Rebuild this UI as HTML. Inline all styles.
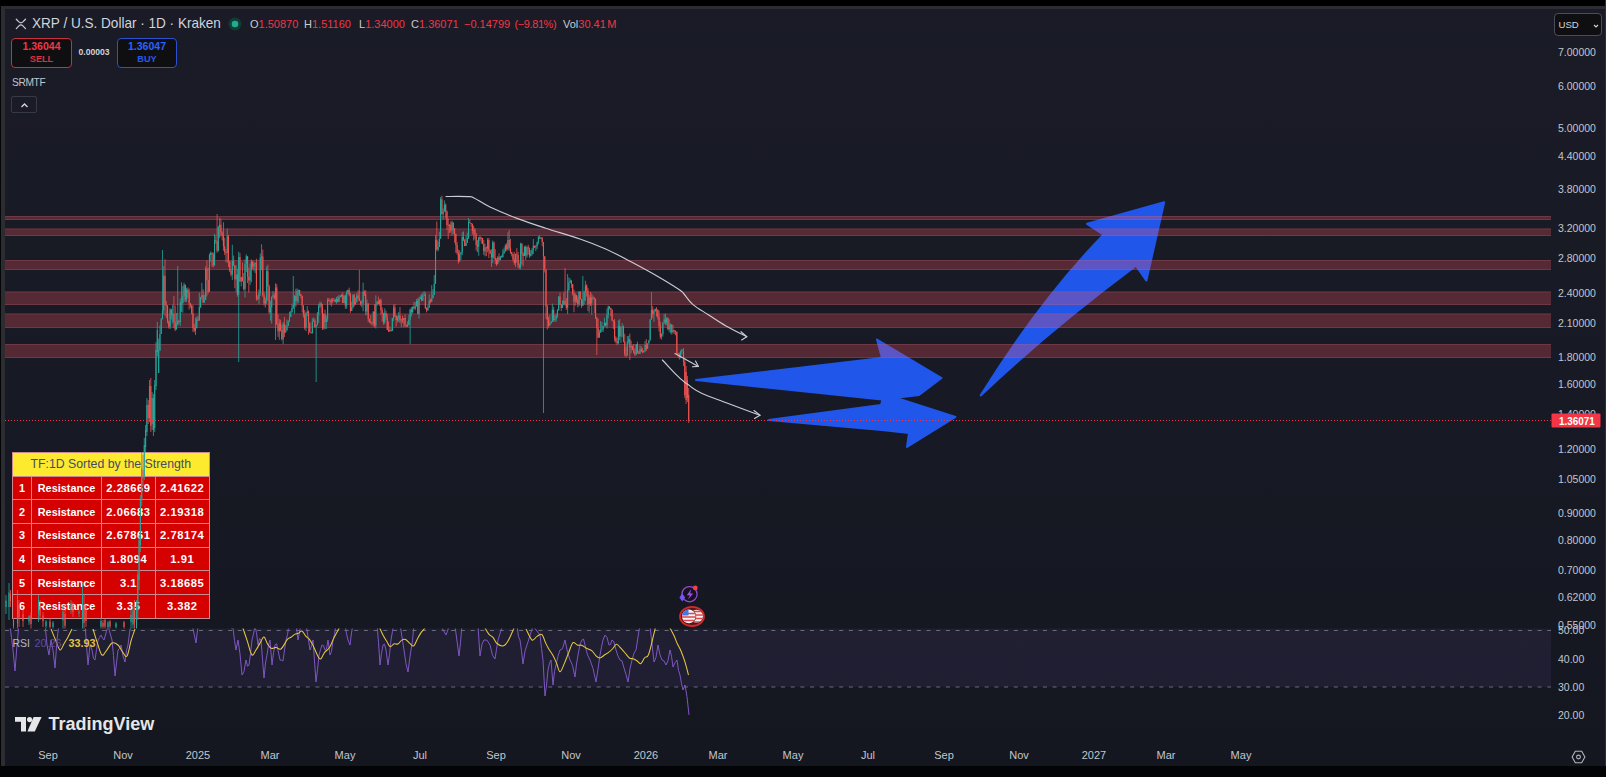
<!DOCTYPE html>
<html><head><meta charset="utf-8"><title>XRP / U.S. Dollar chart</title>
<style>
*{margin:0;padding:0;box-sizing:border-box}
html,body{width:1606px;height:777px;overflow:hidden;background:#030405}
body{position:relative;font-family:"Liberation Sans",sans-serif;color:#d1d4dc}
#frame-top{position:absolute;left:0;top:0;width:1606px;height:6px;background:#000}
#frame-line{position:absolute;left:1px;top:6px;width:1605px;height:3px;background:#2b2d33}
#frame-left{position:absolute;left:1px;top:6px;width:3.5px;height:760px;background:#2b2d33}
#frame-right{position:absolute;left:1605px;top:0;width:1px;height:766px;background:#2e2f34}
#chartbg{position:absolute;left:5px;top:9px;width:1600px;height:756.5px;background:linear-gradient(#1a1b26,#171a24 50%,#141720)}
svg#ch{position:absolute;left:0;top:0}
.ax{font:10.5px "Liberation Sans",sans-serif;fill:#c3c6ce}
.axw{font:bold 11px "Liberation Sans",sans-serif;fill:#fff}
.tx{font:11px "Liberation Sans",sans-serif;fill:#c3c6ce}
.abs{position:absolute;white-space:nowrap}
#title{left:31.5px;top:14.6px;font-size:14.4px;transform:scaleX(0.942);transform-origin:0 0;color:#d1d4dc;letter-spacing:0}
#xrpico{left:14.5px;top:17.5px;width:12px;height:12px}
.ohlc{top:17.5px;font-size:11px;color:#c8cbd3}
.ohlc .r{color:#f23645}
.btn{position:absolute;top:37.5px;height:30px;border-radius:4px;background:#0f0f12;text-align:center;font-size:10.5px;font-weight:bold;line-height:11.5px;padding-top:2.5px}
#sell{left:11px;width:61px;border:1.5px solid #c8303f;color:#f23645}
.s2{font-size:9.2px;opacity:0.9}
#buy{left:117px;width:60px;border:1.5px solid #2c50d0;color:#2962ff}
#spread{left:78.5px;top:47px;font-size:8.6px;font-weight:bold;color:#d1d4dc}
#srmtf{left:12px;top:76.5px;font-size:10.2px;letter-spacing:-0.35px;color:#c2c5ce}
#upbtn{left:11px;top:95.5px;width:26px;height:17.5px;border:1px solid #363a45;border-radius:2px}
#usd{left:1554px;top:13px;width:48px;height:23px;border:1px solid #4a4d58;border-radius:4px;background:#0f0f12;font-size:9.6px;padding:5px 0 0 3.5px;color:#d1d4dc}
#tbl{position:absolute;left:12px;top:452px;width:197.5px;border-collapse:collapse;font-size:10.9px;font-weight:bold}
#tbl td{border:1px solid #c98a92;height:23.7px;color:#fff;background:#d50000;text-align:center;padding:0}
#tbl td.n{letter-spacing:0.55px;font-size:11.2px}
#tbl tr.h td{background:#fde92d;color:#464a66;height:23.7px;font-weight:normal;font-size:12.3px;padding-bottom:1px}
#tvlogo{left:48.5px;top:714px;font-size:18px;font-weight:bold;color:#e6e6e8}
#rsil{left:12px;top:637px;font-size:11px}
</style></head><body>
<div id="frame-top"></div><div id="frame-line"></div><div id="frame-left"></div><div id="frame-right"></div>
<div id="chartbg"></div>
<svg id="ch" width="1606" height="777" viewBox="0 0 1606 777">
<defs><clipPath id="cm"><rect x="5" y="9" width="1546" height="619.5"/></clipPath><clipPath id="cr"><rect x="5" y="628.5" width="1546" height="110"/></clipPath></defs>
<rect x="5" y="628.5" width="1546" height="58.5" fill="rgba(126,87,194,0.11)"/>
<line x1="5" y1="630.5" x2="1551" y2="630.5" stroke="#787b86" stroke-width="1" stroke-dasharray="4 5.7" opacity="0.85"/>
<line x1="5" y1="687" x2="1551" y2="687" stroke="#787b86" stroke-width="1" stroke-dasharray="4 5.7" opacity="0.85"/>
<g clip-path="url(#cm)" fill="#2156eb">
<path d="M696 380 L882 358 L877 339.5 L941.5 378 L919 395 L882 399.5 Z" stroke="#2156eb" stroke-width="2" stroke-linejoin="round"/>
<path d="M768.7 420 L881 405 L884 394 L955.5 417 L907 447 L909 433 L882 430 Z" stroke="#2156eb" stroke-width="2" stroke-linejoin="round"/>
<path d="M980.7 395.4 Q1040 300 1103.5 234.7 L1087 223.8 L1164.2 202.2 L1146.4 280.6 L1136 265.8 Q1050 330 980.7 395.4 Z" stroke="#2156eb" stroke-width="2" stroke-linejoin="round"/>
</g>
<rect x="5" y="216" width="1546" height="4" fill="rgba(247,82,95,0.28)"/>
<line x1="5" y1="216.5" x2="1551" y2="216.5" stroke="rgba(200,110,130,0.22)"/>
<line x1="5" y1="219.5" x2="1551" y2="219.5" stroke="rgba(200,110,130,0.22)"/>
<rect x="5" y="228.5" width="1546" height="7.5" fill="rgba(247,82,95,0.28)"/>
<line x1="5" y1="229.0" x2="1551" y2="229.0" stroke="rgba(200,110,130,0.22)"/>
<line x1="5" y1="235.5" x2="1551" y2="235.5" stroke="rgba(200,110,130,0.22)"/>
<rect x="5" y="260" width="1546" height="10" fill="rgba(247,82,95,0.28)"/>
<line x1="5" y1="260.5" x2="1551" y2="260.5" stroke="rgba(200,110,130,0.22)"/>
<line x1="5" y1="269.5" x2="1551" y2="269.5" stroke="rgba(200,110,130,0.22)"/>
<rect x="5" y="291.5" width="1546" height="13.5" fill="rgba(247,82,95,0.28)"/>
<line x1="5" y1="292.0" x2="1551" y2="292.0" stroke="rgba(200,110,130,0.22)"/>
<line x1="5" y1="304.5" x2="1551" y2="304.5" stroke="rgba(200,110,130,0.22)"/>
<rect x="5" y="313.5" width="1546" height="14.5" fill="rgba(247,82,95,0.28)"/>
<line x1="5" y1="314.0" x2="1551" y2="314.0" stroke="rgba(200,110,130,0.22)"/>
<line x1="5" y1="327.5" x2="1551" y2="327.5" stroke="rgba(200,110,130,0.22)"/>
<rect x="5" y="344" width="1546" height="14" fill="rgba(247,82,95,0.28)"/>
<line x1="5" y1="344.5" x2="1551" y2="344.5" stroke="rgba(200,110,130,0.22)"/>
<line x1="5" y1="357.5" x2="1551" y2="357.5" stroke="rgba(200,110,130,0.22)"/>
</svg>

<table id="tbl">
<tr class="h"><td colspan="4">TF:1D Sorted by the Strength</td></tr>
<tr><td style="width:19px">1</td><td style="width:70px">Resistance</td><td style="width:54px" class="n">2.28669</td><td class="n">2.41622</td></tr>
<tr><td>2</td><td>Resistance</td><td class="n">2.06683</td><td class="n">2.19318</td></tr>
<tr><td>3</td><td>Resistance</td><td class="n">2.67861</td><td class="n">2.78174</td></tr>
<tr><td>4</td><td>Resistance</td><td class="n">1.8094</td><td class="n">1.91</td></tr>
<tr><td>5</td><td>Resistance</td><td class="n">3.1</td><td class="n">3.18685</td></tr>
<tr><td>6</td><td>Resistance</td><td class="n">3.35</td><td class="n">3.382</td></tr>
</table>
<svg id="ch2" style="position:absolute;left:0;top:0" width="1606" height="777" viewBox="0 0 1606 777"><defs><clipPath id="cm2"><rect x="5" y="9" width="1546" height="619.5"/></clipPath><clipPath id="cr2"><rect x="5" y="628.5" width="1546" height="110"/></clipPath></defs><g clip-path="url(#cm2)">
<path d="M6 595.0V614.0M9 583.0V620.0M17.5 590.0V630.0M29 615.0V625.0M38.5 595.0V622.0M46 620.0V630.0M53 621.0V630.0M63 605.0V630.0M71 600.0V614.0M79 610.0V617.0M82.5 583.0V630.0M101 618.0V630.0M108 621.0V630.0M116 622.0V630.0M131 610.0V630.0M133 605.0V630.0M158.67 338.7V373.0M159.94 325.6V350.8M161.21 318.0V334.0M162.48 250.0V319.2M163.75 266.1V314.2M170.1 308.1V329.1M172.64 304.9V323.4M176.45 313.0V329.4M177.72 266.0V325.2M180.26 298.5V326.2M182.8 286.2V312.7M184.07 282.7V301.9M186.61 287.7V301.9M195.5 317.6V335.0M196.77 316.6V328.2M199.31 292.7V320.5M200.58 296.8V308.2M201.85 282.8V299.5M204.39 294.7V302.6M205.66 266.2V299.9M209.47 253.5V291.7M210.74 251.4V261.7M214.55 233.9V265.5M218.36 225.8V251.5M219.63 217.7V238.1M227.25 228.6V262.8M232.33 244.7V280.1M236.14 265.5V292.3M238.68 251.7V362.0M241.22 276.8V286.4M245.03 259.5V297.6M246.3 254.3V272.1M250.11 263.6V284.9M251.38 259.4V282.2M253.92 261.9V271.2M255.19 262.5V273.2M259.0 289.3V304.1M260.27 253.5V295.9M261.54 244.3V270.3M265.35 297.4V307.6M266.62 266.4V303.8M270.43 300.6V320.7M271.7 296.5V323.7M272.97 291.0V297.6M275.51 283.3V340.0M279.32 319.1V339.7M283.13 322.0V344.0M285.67 324.9V332.6M286.94 319.4V330.5M288.21 320.3V326.0M289.48 311.7V321.5M290.75 310.7V317.0M292.02 303.5V312.4M293.29 276.0V308.9M294.56 295.0V313.8M297.1 288.4V303.5M298.37 289.5V303.1M305.99 312.2V331.2M307.26 306.1V315.9M312.34 318.2V333.4M313.61 317.4V321.5M316.15 324.3V382.0M317.42 311.9V325.2M318.69 303.7V322.9M319.96 301.4V308.1M323.77 313.3V329.6M326.31 315.7V329.0M327.58 298.0V321.8M331.39 298.0V306.5M333.93 298.0V301.0M336.47 296.9V303.7M339.01 294.9V301.9M340.28 295.0V297.6M341.55 293.8V297.4M344.09 295.1V303.3M346.63 290.5V308.8M347.9 289.6V294.4M351.71 301.9V310.9M352.98 294.1V308.5M355.52 297.6V304.4M356.79 293.0V302.2M361.87 299.8V307.4M363.14 282.7V311.3M366.95 299.6V315.4M373.3 311.4V326.4M375.84 295.3V328.5M377.11 301.3V305.8M379.65 299.3V305.8M384.73 308.4V324.1M389.81 326.5V332.0M392.35 317.9V330.9M393.62 304.6V320.9M397.43 315.8V322.5M398.7 312.0V321.8M401.24 318.7V327.0M403.78 317.9V327.0M407.59 321.4V327.0M408.86 314.6V325.4M410.13 308.7V344.0M412.67 306.3V313.7M415.21 302.0V310.3M416.48 299.2V306.7M419.02 296.9V318.6M420.29 295.5V299.3M422.83 292.6V301.1M424.1 291.2V295.9M427.91 305.2V310.4M429.18 294.2V307.7M431.72 285.1V301.7M432.99 289.2V298.2M434.26 275.1V295.0M435.53 235.2V283.7M438.07 241.3V251.4M439.34 231.7V247.1M440.61 197.0V238.8M443.15 208.4V219.5M444.42 200.4V211.8M449.5 223.9V233.0M452.04 220.6V235.3M459.66 250.2V261.5M460.93 252.0V259.9M462.2 232.2V255.2M466.01 235.5V246.1M467.28 232.7V243.0M468.55 218.0V239.0M473.63 225.7V240.5M478.71 237.2V255.8M481.25 236.9V243.6M485.06 243.7V256.3M487.6 238.0V252.3M492.68 240.6V263.2M497.76 256.0V264.2M500.3 255.9V260.0M502.84 249.2V257.3M504.11 247.5V253.6M505.38 244.2V251.8M507.92 232.2V250.5M515.54 253.7V267.2M520.62 242.7V269.4M524.43 245.8V256.1M526.97 246.3V257.6M530.78 250.3V256.5M532.05 248.1V255.5M533.32 239.0V254.0M535.86 245.0V251.1M537.13 241.6V249.0M538.4 236.0V244.3M540.94 237.3V239.1M549.83 314.9V325.7M551.1 321.3V323.6M552.37 303.6V322.0M554.91 315.2V321.7M556.18 313.5V321.7M557.45 309.2V317.8M558.72 296.3V310.8M562.53 300.4V307.9M563.8 292.5V304.9M567.61 274.0V314.0M568.88 277.4V291.5M570.15 278.4V283.0M575.23 292.9V305.6M579.04 291.1V306.3M582.85 276.0V305.8M584.12 290.7V304.3M585.39 280.7V300.9M589.2 294.8V312.8M591.74 293.3V314.6M599.36 329.7V337.6M600.63 321.0V332.6M601.9 322.1V332.0M603.17 325.9V332.0M604.44 317.9V326.4M606.98 308.5V328.4M608.25 305.7V318.4M618.41 320.3V343.9M620.95 326.3V343.1M622.22 323.1V337.3M627.3 336.0V355.7M628.57 335.7V343.6M631.11 340.7V353.4M636.19 344.0V355.4M640.0 345.3V354.0M643.81 350.3V352.7M645.08 340.9V352.2M647.62 343.4V348.8M648.89 339.9V343.6M650.16 319.2V340.4M651.43 292.0V319.8M653.97 309.3V321.8M655.24 308.7V312.4M661.59 333.3V339.6M662.86 322.6V336.5M664.13 314.2V324.0M666.67 317.0V324.9M669.21 319.3V332.2M670.48 323.4V333.4M673.02 325.0V333.3M680.64 350.5V358.5M681.91 348.9V354.3M136.5 600.0V640.0M137.8 570.0V620.0M139.1 535.0V590.0M140.4 495.0V552.0M141.7 452.0V506.0M144.3 438.0V480.0M145.6 425.0V452.0M146.9 398.0V436.0M149.5 380.0V422.0M152.1 392.0V430.0M154.7 380.0V432.0M156.0 342.0V390.0M157.3 322.0V356.0" stroke="#26a69a" stroke-width="0.8" fill="none"/>
<path d="M4.5 599.0V621.0M10.5 590.0V607.0M13.5 618.0V630.0M19 600.0V627.0M23 610.0V627.0M31 612.0V630.0M40 600.0V620.0M43 612.0V627.0M50 618.0V630.0M65 610.0V630.0M73 602.0V617.0M84 595.0V630.0M86 605.0V627.0M103 620.0V630.0M105 619.0V630.0M110 620.0V630.0M124 621.0V630.0M134.5 600.0V630.0M165.02 259.3V315.8M166.29 301.0V318.2M167.56 305.1V323.4M168.83 320.6V328.5M171.37 308.9V319.5M173.91 295.9V327.9M175.18 305.5V331.1M178.99 319.8V323.9M181.53 282.3V311.9M185.34 284.7V302.0M187.88 287.5V297.7M189.15 288.7V309.5M190.42 303.1V307.9M191.69 304.5V314.6M192.96 305.3V331.8M194.23 323.7V332.4M198.04 316.1V321.1M203.12 289.2V302.9M206.93 260.3V296.4M208.2 267.7V293.7M212.01 252.3V266.8M213.28 252.4V267.5M215.82 235.7V243.8M217.09 214.0V252.7M220.9 218.7V236.3M222.17 231.5V240.4M223.44 222.2V250.7M224.71 237.7V255.0M225.98 249.1V262.1M228.52 234.9V267.0M229.79 260.8V272.0M231.06 268.9V276.6M233.6 255.5V265.7M234.87 265.0V288.2M237.41 268.8V296.7M239.95 253.0V281.7M242.49 262.5V281.5M243.76 273.0V290.5M247.57 256.2V283.0M248.84 267.6V292.7M252.65 260.7V269.3M256.46 258.8V300.8M257.73 295.2V300.2M262.81 249.6V296.9M264.08 292.5V305.5M267.89 264.7V300.8M269.16 284.9V314.0M274.24 292.7V299.8M276.78 284.1V324.9M278.05 314.4V336.9M280.59 319.7V331.5M281.86 325.1V340.5M284.4 317.0V337.0M295.83 288.8V306.8M299.64 289.9V296.0M300.91 294.1V298.5M302.18 295.7V312.5M303.45 305.5V317.6M304.72 310.1V329.7M308.53 310.4V334.8M309.8 322.2V332.8M311.07 332.2V333.4M314.88 318.5V327.9M321.23 302.3V313.4M322.5 303.9V329.9M325.04 309.7V329.3M328.85 298.0V301.4M330.12 299.2V304.9M332.66 298.0V303.2M335.2 298.6V302.4M337.74 295.9V302.5M342.82 292.2V303.1M345.36 294.5V308.7M349.17 287.7V296.2M350.44 292.9V312.9M354.25 293.7V306.4M358.06 290.4V299.4M359.33 270.0V301.0M360.6 300.8V305.7M364.41 290.4V296.1M365.68 290.1V315.1M368.22 303.3V322.2M369.49 318.7V322.9M370.76 315.1V324.3M372.03 322.3V325.4M374.57 304.2V327.5M378.38 296.6V304.2M380.92 298.5V314.7M382.19 307.3V321.6M383.46 312.8V324.7M386.0 310.6V319.9M387.27 313.8V330.1M388.54 321.4V332.0M391.08 328.2V331.5M394.89 304.1V317.2M396.16 315.3V326.5M399.97 307.0V323.0M402.51 315.6V323.1M405.05 314.4V327.0M406.32 324.5V327.0M411.4 307.1V316.4M413.94 301.8V309.0M417.75 298.1V314.2M421.56 294.0V301.4M425.37 292.2V309.1M426.64 307.3V312.4M430.45 298.8V303.4M436.8 221.5V250.8M441.88 195.7V214.4M445.69 203.5V218.4M446.96 210.5V230.0M448.23 218.5V239.1M450.77 221.4V232.6M453.31 222.6V234.2M454.58 228.0V242.7M455.85 233.5V252.9M457.12 242.0V254.7M458.39 249.6V263.5M463.47 231.4V241.2M464.74 238.8V246.2M469.82 219.3V223.4M471.09 223.0V227.0M472.36 223.5V234.5M474.9 227.8V239.3M476.17 232.8V250.6M477.44 240.1V252.2M479.98 235.4V240.8M482.52 237.9V244.2M483.79 240.1V254.9M486.33 246.5V256.1M488.87 238.0V258.2M490.14 249.7V254.0M491.41 249.2V267.0M493.95 241.5V258.9M495.22 249.2V264.1M496.49 258.3V265.9M499.03 253.3V262.0M501.57 255.5V257.7M506.65 243.0V250.7M509.19 230.0V250.5M510.46 238.9V253.7M511.73 251.8V256.4M513.0 253.6V261.3M514.27 251.9V264.9M516.81 248.2V262.6M518.08 251.9V268.3M519.35 263.4V268.9M521.89 242.9V264.5M523.16 252.3V266.3M525.7 245.4V260.0M528.24 244.8V254.6M529.51 247.5V257.8M534.59 245.7V248.0M539.67 235.1V239.0M542.21 237.5V246.4M543.48 242.1V413.0M544.75 256.3V272.5M546.02 269.4V319.2M547.29 304.8V329.5M548.56 316.9V327.7M553.64 306.7V322.0M559.99 292.7V304.8M561.26 304.0V311.1M565.07 268.0V305.6M566.34 298.0V309.8M571.42 280.4V287.9M572.69 284.1V295.5M573.96 289.6V312.2M576.5 294.9V302.7M577.77 296.5V307.3M580.31 291.3V299.7M581.58 298.9V307.9M586.66 284.2V296.6M587.93 287.8V311.0M590.47 291.8V306.0M593.01 295.4V299.7M594.28 297.0V313.2M595.55 298.5V319.1M596.82 316.7V355.0M598.09 318.5V338.0M605.71 322.7V326.7M609.52 306.1V309.5M610.79 307.7V316.2M612.06 309.3V321.2M613.33 320.0V328.9M614.6 319.0V341.5M615.87 336.3V343.3M617.14 337.7V345.2M619.68 319.2V339.9M623.49 325.6V342.4M624.76 333.8V356.3M626.03 347.1V357.4M629.84 333.4V360.0M632.38 345.5V350.3M633.65 344.0V353.6M634.92 348.4V356.1M637.46 341.7V353.5M638.73 350.8V354.0M641.27 346.1V352.0M642.54 347.9V353.2M646.35 339.1V350.8M652.7 306.0V318.2M656.51 307.1V316.5M657.78 309.5V319.5M659.05 310.4V331.6M660.32 321.6V338.7M665.4 313.6V325.2M667.94 317.4V329.7M671.75 324.2V334.6M674.29 329.9V334.1M675.56 330.5V335.3M676.83 331.7V354.7M678.1 352.8V357.3M679.37 352.5V359.5M143.0 455.0V486.0M148.2 400.0V424.0M150.8 378.0V432.0M153.4 394.0V436.0M683.5 348.0V366.0M684.8 358.0V398.0M686.1 366.0V404.0M687.4 376.0V402.0M688.7 388.0V423.0" stroke="#ef5350" stroke-width="0.8" fill="none"/>
<path d="M6 600.4V607.0M9 592.6V607.0M17.5 599.8V623.3M29 616.3V621.4M38.5 600.1V613.3M46 621.6V626.2M53 622.7V627.0M63 611.8V620.3M71 602.9V609.2M79 611.3V613.5M82.5 593.4V618.9M101 620.9V626.7M108 622.4V627.3M116 623.6V626.9M131 615.1V622.0M133 610.3V624.4M158.67 350.8V373.0M159.94 334.0V350.8M161.21 319.2V334.0M162.48 310.6V319.2M163.75 275.8V310.6M170.1 309.4V326.8M172.64 313.9V314.8M176.45 325.2V329.4M177.72 320.9V325.2M180.26 302.2V321.9M182.8 295.9V303.1M184.07 284.7V295.9M186.61 289.7V299.6M195.5 328.2V330.4M196.77 319.6V328.2M199.31 307.0V320.5M200.58 297.3V307.0M201.85 295.3V297.3M204.39 299.9V302.6M205.66 268.6V299.9M209.47 255.0V291.7M210.74 253.0V255.0M214.55 240.3V265.5M218.36 226.9V250.7M219.63 224.7V226.9M227.25 236.2V252.9M232.33 260.9V274.6M236.14 274.4V279.6M238.68 257.0V294.7M241.22 277.0V281.6M245.03 264.0V288.9M246.3 256.3V264.0M250.11 270.6V280.6M251.38 261.4V270.6M253.92 263.9V266.6M255.19 263.0V263.9M259.0 292.7V299.1M260.27 257.8V292.7M261.54 256.5V257.8M265.35 300.3V303.5M266.62 271.3V300.3M270.43 307.2V312.2M271.7 296.8V307.2M272.97 295.3V296.8M275.51 287.6V298.5M279.32 322.8V331.2M283.13 324.0V339.3M285.67 330.5V332.6M286.94 326.0V330.5M288.21 321.5V326.0M289.48 317.0V321.5M290.75 312.4V317.0M292.02 308.0V312.4M293.29 304.9V308.0M294.56 296.0V304.9M297.1 290.8V301.1M298.37 289.9V290.8M305.99 312.9V327.7M307.26 311.4V312.9M312.34 321.4V333.2M313.61 320.5V321.4M316.15 325.2V327.1M317.42 314.4V325.2M318.69 305.5V314.4M319.96 303.4V305.5M323.77 314.2V327.9M326.31 318.8V322.0M327.58 300.0V318.8M331.39 300.0V301.8M333.93 300.0V300.9M336.47 298.9V302.1M339.01 296.9V301.7M340.28 295.9V296.9M341.55 295.0V295.9M344.09 295.8V303.0M346.63 292.2V305.5M347.9 290.1V292.2M351.71 307.2V310.9M352.98 295.3V307.2M355.52 302.2V304.4M356.79 295.5V302.2M361.87 302.8V303.7M363.14 291.8V302.8M366.95 303.4V311.5M373.3 311.6V323.4M375.84 304.1V325.5M377.11 301.6V304.1M379.65 299.7V304.1M384.73 313.1V322.3M389.81 330.0V330.9M392.35 317.9V330.9M393.62 307.4V317.9M397.43 317.8V320.1M398.7 315.4V317.8M401.24 319.4V320.5M403.78 318.0V320.2M407.59 325.0V325.9M408.86 319.7V325.0M410.13 309.6V319.7M412.67 306.9V311.9M415.21 305.9V308.4M416.48 301.0V305.9M419.02 298.9V314.0M420.29 297.5V298.9M422.83 295.7V300.6M424.1 294.5V295.7M427.91 307.7V310.4M429.18 300.8V307.7M431.72 298.2V301.7M432.99 295.0V298.2M434.26 283.7V295.0M435.53 239.8V283.7M438.07 247.1V249.4M439.34 238.8V247.1M440.61 199.3V238.8M443.15 211.5V214.3M444.42 204.8V211.5M449.5 224.9V225.8M452.04 222.6V230.6M459.66 254.5V261.5M460.93 252.4V254.5M462.2 237.0V252.4M466.01 243.0V246.1M467.28 237.9V243.0M468.55 222.2V237.9M473.63 229.8V230.7M478.71 237.3V246.8M481.25 237.9V238.8M485.06 247.4V251.3M487.6 240.0V248.3M492.68 242.6V257.6M497.76 257.5V264.2M500.3 256.4V260.0M502.84 253.6V257.3M504.11 251.1V253.6M505.38 245.4V251.1M507.92 239.9V249.2M515.54 254.3V262.9M520.62 244.0V266.9M524.43 247.1V255.9M526.97 247.3V255.6M530.78 253.7V255.8M532.05 250.0V253.7M533.32 245.8V250.0M535.86 246.3V247.2M537.13 242.6V246.3M538.4 237.5V242.6M540.94 237.5V238.4M549.83 323.6V325.7M551.1 321.5V323.6M552.37 309.7V321.5M554.91 319.1V320.0M556.18 315.9V319.1M557.45 310.1V315.9M558.72 296.4V310.1M562.53 304.9V307.9M563.8 300.7V304.9M567.61 289.9V307.8M568.88 282.4V289.9M570.15 280.4V282.4M575.23 294.9V301.7M579.04 291.8V304.1M582.85 300.6V305.8M584.12 292.4V300.6M585.39 285.5V292.4M589.2 297.5V304.2M591.74 297.4V303.6M599.36 332.6V337.6M600.63 330.0V332.6M601.9 329.1V330.0M603.17 326.1V329.1M604.44 322.8V326.1M606.98 314.9V325.5M608.25 306.6V314.9M618.41 325.7V343.2M620.95 327.3V336.6M622.22 326.4V327.3M627.3 341.4V355.5M628.57 339.2V341.4M631.11 346.0V347.6M636.19 344.3V354.2M640.0 349.2V353.7M643.81 350.7V352.2M645.08 345.0V350.7M647.62 343.6V348.8M648.89 340.4V343.6M650.16 319.6V340.4M651.43 309.7V319.6M653.97 311.1V314.1M655.24 308.7V311.1M661.59 334.1V336.7M662.86 322.6V334.1M664.13 319.5V322.6M666.67 318.2V322.7M669.21 325.3V329.5M670.48 324.4V325.3M673.02 329.9V332.1M680.64 351.4V357.5M681.91 349.7V351.4M136.5 605.0V628.0M137.8 575.0V610.0M139.1 540.0V580.0M140.4 500.0V545.0M141.7 468.0V500.0M144.3 445.0V476.0M145.6 430.0V447.0M146.9 405.0V432.0M149.5 386.0V418.0M152.1 398.0V424.0M154.7 385.0V428.0M156.0 350.0V386.0M157.3 330.0V352.0" stroke="#26a69a" stroke-width="1.1" fill="none"/>
<path d="M4.5 602.1V613.4M10.5 594.0V601.1M13.5 620.1V626.2M19 605.1V617.6M23 614.2V621.1M31 615.4V623.9M40 606.0V615.4M43 615.4V621.2M50 621.4V626.9M65 614.1V625.7M73 605.6V612.0M84 606.1V623.0M86 610.4V621.0M103 622.8V626.5M105 620.0V626.5M110 621.6V626.4M124 622.2V626.9M134.5 608.4V622.5M165.02 275.8V304.9M166.29 304.9V305.8M167.56 305.8V321.5M168.83 321.5V326.8M171.37 309.4V314.8M173.91 313.9V322.1M175.18 322.1V329.4M178.99 320.9V321.9M181.53 302.2V303.1M185.34 284.7V299.6M187.88 289.7V292.6M189.15 292.6V303.2M190.42 303.2V305.7M191.69 305.7V313.2M192.96 313.2V328.1M194.23 328.1V330.4M198.04 319.6V320.5M203.12 295.3V302.6M206.93 268.6V280.0M208.2 280.0V291.7M212.01 253.0V254.6M213.28 254.6V265.5M215.82 240.3V241.2M217.09 241.2V250.7M220.9 224.7V232.7M222.17 232.7V235.5M223.44 235.5V246.3M224.71 246.3V252.0M225.98 252.0V252.9M228.52 236.2V261.7M229.79 261.7V271.1M231.06 271.1V274.6M233.6 260.9V265.6M234.87 265.6V279.6M237.41 274.4V294.7M239.95 257.0V281.6M242.49 277.0V281.1M243.76 281.1V288.9M247.57 256.3V276.7M248.84 276.7V280.6M252.65 261.4V266.6M256.46 263.0V298.2M257.73 298.2V299.1M262.81 256.5V295.4M264.08 295.4V303.5M267.89 271.3V286.4M269.16 286.4V312.2M274.24 295.3V298.5M276.78 287.6V324.6M278.05 324.6V331.2M280.59 322.8V329.9M281.86 329.9V339.3M284.4 324.0V332.6M295.83 296.0V301.1M299.64 289.9V294.2M300.91 294.2V296.1M302.18 296.1V305.6M303.45 305.6V314.8M304.72 314.8V327.7M308.53 311.4V323.2M309.8 323.2V332.3M311.07 332.3V333.2M314.88 320.5V327.1M321.23 303.4V306.5M322.5 306.5V327.9M325.04 314.2V322.0M328.85 300.0V300.9M330.12 300.9V301.8M332.66 300.0V300.9M335.2 300.0V302.1M337.74 298.9V301.7M342.82 295.0V303.0M345.36 295.8V305.5M349.17 290.1V294.4M350.44 294.4V310.9M354.25 295.3V304.4M358.06 295.5V298.1M359.33 298.1V300.9M360.6 300.9V303.7M364.41 291.8V293.8M365.68 293.8V311.5M368.22 303.4V318.9M369.49 318.9V321.2M370.76 321.2V322.3M372.03 322.3V323.4M374.57 311.6V325.5M378.38 301.6V304.1M380.92 299.7V309.9M382.19 309.9V313.4M383.46 313.4V322.3M386.0 313.1V317.2M387.27 317.2V330.0M388.54 330.0V330.9M391.08 330.0V330.9M394.89 307.4V315.8M396.16 315.8V320.1M399.97 315.4V320.5M402.51 319.4V320.2M405.05 318.0V325.0M406.32 325.0V325.9M411.4 309.6V311.9M413.94 306.9V308.4M417.75 301.0V314.0M421.56 297.5V300.6M425.37 294.5V308.0M426.64 308.0V310.4M430.45 300.8V301.7M436.8 239.8V249.4M441.88 199.3V214.3M445.69 204.8V211.6M446.96 211.6V224.9M448.23 224.9V225.8M450.77 224.9V230.6M453.31 222.6V228.3M454.58 228.3V233.9M455.85 233.9V244.9M457.12 244.9V252.8M458.39 252.8V261.5M463.47 237.0V239.8M464.74 239.8V246.1M469.82 222.2V223.1M471.09 223.1V224.0M472.36 224.0V230.7M474.9 229.8V234.2M476.17 234.2V245.1M477.44 245.1V246.8M479.98 237.3V238.8M482.52 237.9V244.1M483.79 244.1V251.3M486.33 247.4V248.3M488.87 240.0V250.4M490.14 250.4V253.4M491.41 253.4V257.6M493.95 242.6V258.0M495.22 258.0V260.2M496.49 260.2V264.2M499.03 257.5V260.0M501.57 256.4V257.3M506.65 245.4V249.2M509.19 239.9V247.9M510.46 247.9V252.1M511.73 252.1V253.9M513.0 253.9V259.3M514.27 259.3V262.9M516.81 254.3V255.1M518.08 255.1V265.6M519.35 265.6V266.9M521.89 244.0V254.3M523.16 254.3V255.9M525.7 247.1V255.6M528.24 247.3V248.6M529.51 248.6V255.8M534.59 245.8V247.2M539.67 237.5V238.4M542.21 237.5V242.1M543.48 242.1V256.3M544.75 256.3V269.4M546.02 269.4V306.5M547.29 306.5V319.8M548.56 319.8V325.7M553.64 309.7V320.0M559.99 296.4V304.7M561.26 304.7V307.9M565.07 300.7V303.6M566.34 303.6V307.8M571.42 280.4V284.1M572.69 284.1V293.5M573.96 293.5V301.7M576.5 294.9V300.1M577.77 300.1V304.1M580.31 291.8V299.0M581.58 299.0V305.8M586.66 285.5V290.5M587.93 290.5V304.2M590.47 297.5V303.6M593.01 297.4V298.3M594.28 298.3V299.2M595.55 299.2V318.2M596.82 318.2V327.4M598.09 327.4V337.6M605.71 322.8V325.5M609.52 306.6V308.1M610.79 308.1V309.7M612.06 309.7V320.6M613.33 320.6V321.5M614.6 321.5V337.9M615.87 337.9V341.3M617.14 341.3V343.2M619.68 325.7V336.6M623.49 326.4V341.5M624.76 341.5V354.6M626.03 354.6V355.5M629.84 339.2V347.6M632.38 346.0V349.9M633.65 349.9V352.4M634.92 352.4V354.2M637.46 344.3V352.8M638.73 352.8V353.7M641.27 349.2V351.3M642.54 351.3V352.2M646.35 345.0V348.8M652.7 309.7V314.1M656.51 308.7V309.8M657.78 309.8V316.9M659.05 316.9V326.2M660.32 326.2V336.7M665.4 319.5V322.7M667.94 318.2V329.5M671.75 324.4V332.1M674.29 329.9V330.8M675.56 330.8V331.7M676.83 331.7V353.1M678.1 353.1V354.0M679.37 354.0V357.5M143.0 470.0V478.0M148.2 405.0V418.0M150.8 386.0V426.0M153.4 398.0V430.0M683.5 352.0V362.0M684.8 362.0V395.0M686.1 372.0V400.0M687.4 380.0V398.0M688.7 395.0V420.5" stroke="#ef5350" stroke-width="1.1" fill="none"/>
<path d="M446 196.5 C449.7 196.5 463.3 196.3 468.0 196.6 C472.7 196.8 470.3 196.3 474.0 198.0 C477.7 199.7 482.7 203.6 490.0 207.0 C497.3 210.4 508.5 215.1 517.7 218.6 C526.9 222.1 534.6 224.6 545.0 228.0 C555.4 231.4 569.9 235.5 580.0 239.0 C590.1 242.5 597.1 245.2 605.7 249.0 C614.3 252.8 623.0 257.5 631.5 262.0 C640.0 266.5 649.1 271.4 657.0 276.0 C664.9 280.6 674.5 286.5 679.0 289.5 C683.5 292.5 681.7 291.5 684.0 294.0 C686.3 296.5 688.9 301.1 693.0 304.6 C697.1 308.1 703.2 311.4 708.7 315.0 C714.2 318.6 719.6 322.4 726.0 326.0 C732.4 329.6 743.3 335.0 746.8 336.8" stroke="#c9ccd3" stroke-width="1.15" fill="none" stroke-linecap="round" stroke-linejoin="round"/>
<path d="M741 331.7 L746.8 336.8 L741.6 340" stroke="#c9ccd3" stroke-width="1.15" fill="none" stroke-linecap="round" stroke-linejoin="round"/>
<path d="M675 353.5 L698.4 366.4" stroke="#c9ccd3" stroke-width="1.15" fill="none" stroke-linecap="round" stroke-linejoin="round"/><path d="M692.5 366.8 L698.4 366.4 L695.5 361" stroke="#c9ccd3" stroke-width="1.15" fill="none" stroke-linecap="round" stroke-linejoin="round"/>
<path d="M662.4 360 C672 370 680 380 688 384.4 C694 390 700 393 708 396 L721.6 401 C735 406 748 411 760 415.3" stroke="#c9ccd3" stroke-width="1.15" fill="none" stroke-linecap="round" stroke-linejoin="round"/>
<path d="M754 410.5 L760 415.3 L754.5 418.5" stroke="#c9ccd3" stroke-width="1.15" fill="none" stroke-linecap="round" stroke-linejoin="round"/>
</g>
<line x1="5" y1="420.5" x2="1551" y2="420.5" stroke="#f23645" stroke-width="1" stroke-dasharray="1 2"/>
<g clip-path="url(#cr2)">
<path d="M5.0 622.0 L10.0 626.0 L11.5 637.6 L13.0 650.0 L15.0 671.0 L17.0 645.0 L19.0 624.0 L45.0 624.0 L47.0 645.0 L49.0 655.0 L51.0 640.0 L53.0 650.0 L55.0 668.0 L57.0 640.0 L59.0 624.0 L85.0 624.0 L86.5 645.0 L88.0 665.0 L90.0 645.0 L92.0 650.0 L93.5 658.4 L95.0 660.0 L96.5 649.7 L98.0 640.0 L99.5 637.6 L101.0 635.0 L102.5 638.2 L104.0 640.0 L108.0 626.0 L112.0 640.0 L113.5 655.5 L115.0 676.0 L116.5 663.1 L118.0 650.0 L119.5 648.5 L121.0 645.0 L123.0 655.8 L125.0 662.0 L126.5 650.3 L128.0 645.0 L129.5 632.9 L131.0 624.0 L192.0 624.0 L196.0 643.0 L197.5 630.2 L199.0 624.0 L230.0 624.0 L231.5 628.5 L233.0 628.0 L234.5 640.5 L236.0 650.0 L238.0 640.0 L240.0 653.8 L242.0 675.0 L244.0 671.4 L246.0 660.0 L247.5 666.2 L249.0 665.0 L250.5 653.7 L252.0 640.0 L253.5 633.9 L255.0 626.0 L256.5 632.8 L258.0 645.0 L259.5 638.6 L261.0 640.0 L262.5 659.2 L264.0 678.0 L265.5 663.0 L267.0 655.0 L268.5 645.0 L270.0 640.0 L272.0 665.0 L273.5 652.9 L275.0 645.0 L276.5 643.7 L278.0 650.0 L280.0 660.0 L281.5 660.2 L283.0 661.0 L284.5 650.0 L286.0 640.0 L287.5 634.7 L289.0 624.0 L296.0 624.0 L298.0 640.0 L299.5 632.2 L301.0 624.0 L306.0 624.0 L310.0 650.0 L311.5 646.1 L313.0 640.0 L314.5 661.0 L316.0 682.0 L317.5 669.8 L319.0 655.0 L320.5 649.7 L322.0 645.0 L323.5 645.7 L325.0 650.0 L326.5 649.0 L328.0 640.0 L330.0 655.0 L331.5 651.5 L333.0 640.0 L334.5 634.7 L336.0 624.0 L345.0 624.0 L346.5 633.7 L348.0 640.0 L350.0 645.0 L351.5 633.0 L353.0 624.0 L377.0 624.0 L378.5 642.3 L380.0 665.0 L381.5 653.3 L383.0 645.0 L384.5 644.1 L386.0 650.0 L388.0 665.0 L389.5 654.6 L391.0 640.0 L392.5 631.2 L394.0 624.0 L400.0 624.0 L404.0 650.0 L406.0 663.8 L408.0 672.0 L409.5 660.1 L411.0 650.0 L412.5 640.7 L414.0 624.0 L440.0 624.0 L446.0 635.0 L450.0 624.0 L455.0 626.0 L459.0 656.0 L460.5 642.8 L462.0 624.0 L478.0 626.0 L480.0 656.0 L482.0 644.0 L484.0 640.0 L487.0 640.2 L490.0 645.0 L492.5 655.3 L495.0 659.0 L496.5 649.3 L498.0 640.0 L503.0 624.0 L517.0 626.0 L518.5 636.8 L520.0 640.0 L521.5 651.2 L523.0 664.0 L525.0 651.1 L527.0 645.0 L533.0 626.0 L540.0 635.0 L541.5 648.5 L543.0 660.0 L545.0 696.0 L546.5 685.2 L548.0 670.0 L549.5 663.2 L551.0 660.0 L553.0 685.0 L554.5 671.7 L556.0 665.0 L558.0 656.2 L560.0 650.0 L562.5 648.7 L565.0 640.0 L567.5 652.1 L570.0 660.0 L572.5 665.4 L575.0 677.0 L576.5 664.0 L578.0 655.0 L580.0 644.3 L582.0 640.0 L583.5 639.0 L585.0 645.0 L587.5 654.9 L590.0 660.0 L593.0 668.4 L596.0 682.0 L598.0 669.0 L600.0 655.0 L601.5 647.1 L603.0 640.0 L605.0 635.0 L607.0 637.5 L609.0 645.0 L610.5 644.4 L612.0 640.0 L614.0 642.0 L616.0 650.0 L618.0 656.1 L620.0 660.0 L622.0 660.9 L624.0 668.0 L626.0 674.4 L628.0 682.0 L630.0 668.7 L632.0 660.0 L634.0 653.2 L636.0 650.0 L640.0 624.0 L650.0 626.0 L654.0 662.0 L656.0 657.3 L658.0 645.0 L660.0 654.9 L662.0 660.0 L664.0 660.9 L666.0 665.0 L668.0 660.6 L670.0 650.0 L671.5 656.2 L673.0 667.0 L675.0 662.7 L677.0 660.0 L678.5 670.3 L680.0 675.0 L681.5 683.6 L683.0 690.0 L685.0 685.0 L687.0 696.8 L689.0 715.0" stroke="#7e57c2" stroke-width="1" fill="none"/>
<path d="M51 629 C51.8 630.8 54.0 636.4 55.5 639.9 C57.0 643.4 58.6 649.4 60.0 650.0 C61.4 650.6 62.7 645.9 64.0 643.8 C65.3 641.6 66.7 639.4 68.0 636.9 C69.3 634.5 71.3 630.3 72.0 629.0 M93 629 C93.8 631.4 96.0 639.1 97.5 643.4 C99.0 647.7 100.4 653.9 102.0 655.0 C103.6 656.1 105.3 651.8 107.0 649.8 C108.7 647.8 110.2 643.8 112.0 643.0 C113.8 642.2 116.2 643.5 118.0 645.0 C119.8 646.5 121.0 650.0 122.5 651.9 C124.0 653.7 125.6 657.8 127.0 656.0 C128.4 654.2 129.7 645.5 131.0 641.0 C132.3 636.5 134.3 631.0 135.0 629.0 M242.9 628 C243.6 630.2 245.9 636.8 247.4 641.3 C248.8 645.8 250.4 653.3 251.8 654.8 C253.2 656.3 254.5 652.2 255.8 650.3 C257.2 648.4 258.5 645.6 259.9 643.4 C261.2 641.2 262.6 636.9 263.9 637.0 C265.2 637.1 266.3 642.0 267.5 643.9 C268.8 645.8 269.8 647.7 271.2 648.3 C272.6 648.9 274.5 647.3 276.1 647.4 C277.7 647.5 279.1 650.3 281.0 649.0 C282.9 647.7 285.7 641.4 287.4 639.4 C289.1 637.4 289.8 638.0 291.0 637.2 C292.3 636.4 293.5 635.0 294.7 634.4 C295.9 633.7 297.1 633.8 298.4 633.2 C299.6 632.7 300.8 630.5 302.0 631.0 C303.2 631.5 304.5 634.8 305.8 636.2 C307.0 637.6 308.3 637.8 309.5 639.4 C310.8 641.1 311.6 642.8 313.3 646.0 C315.0 649.2 317.9 657.9 319.8 658.9 C321.7 659.9 323.0 654.2 324.6 652.3 C326.3 650.4 327.9 650.0 329.5 647.5 C331.1 645.0 332.7 640.3 334.4 637.0 C336.0 633.8 338.4 629.5 339.2 628.0 M379.7 628 C380.3 629.3 382.0 633.3 383.2 635.6 C384.4 637.8 385.5 639.5 386.7 641.3 C387.9 643.2 389.0 646.3 390.2 646.7 C391.4 647.1 392.8 644.2 394.1 643.8 C395.3 643.3 396.6 644.6 397.9 644.0 C399.2 643.4 400.5 640.8 401.8 640.1 C403.0 639.3 404.3 638.9 405.6 639.4 C406.9 639.9 408.3 642.0 409.6 643.1 C411.0 644.2 412.4 646.7 413.7 646.0 C415.0 645.3 416.2 641.1 417.5 638.8 C418.7 636.5 420.0 634.2 421.2 632.4 C422.5 630.6 424.4 628.7 425.0 628.0 M485 628 C485.7 629.1 487.7 632.8 489.0 634.4 C490.3 635.9 491.7 635.9 493.0 637.4 C494.3 638.9 495.3 642.1 497.0 643.5 C498.7 644.9 501.2 646.4 503.0 646.0 C504.8 645.6 506.2 644.0 508.0 641.0 C509.8 638.0 513.0 630.2 514.0 628.0 M526 629 C527.0 630.8 530.2 638.8 532.0 640.0 C533.8 641.2 535.3 637.3 537.0 636.4 C538.7 635.5 540.6 633.5 542.0 634.6 C543.4 635.7 544.4 640.6 545.7 643.1 C546.9 645.7 548.1 647.7 549.3 649.8 C550.6 651.9 551.8 653.4 553.0 655.6 C554.2 657.8 555.3 660.3 556.5 663.0 C557.7 665.7 558.7 671.7 560.0 671.8 C561.3 671.9 562.9 666.8 564.3 663.6 C565.8 660.4 567.2 656.0 568.7 652.5 C570.1 649.0 571.6 643.9 573.0 642.7 C574.4 641.5 575.9 644.6 577.3 645.0 C578.8 645.5 580.2 644.8 581.7 645.3 C583.1 645.8 584.3 647.1 586.0 648.0 C587.7 648.9 590.3 649.5 592.0 650.8 C593.7 652.1 594.7 654.6 596.0 655.8 C597.3 657.0 598.6 658.1 600.0 658.0 C601.4 657.9 602.8 656.1 604.1 655.2 C605.5 654.3 606.9 653.7 608.2 652.6 C609.6 651.6 611.0 650.4 612.4 649.0 C613.8 647.6 615.1 644.4 616.5 644.3 C617.9 644.2 619.4 646.8 620.8 648.2 C622.2 649.7 623.7 651.4 625.1 653.0 C626.5 654.6 628.1 657.0 629.4 658.0 C630.7 659.0 631.9 658.4 633.2 658.8 C634.4 659.3 635.7 659.9 636.9 660.7 C638.2 661.5 639.4 664.2 640.7 663.7 C642.0 663.2 643.4 659.1 644.8 657.5 C646.1 655.8 647.0 658.9 648.8 654.0 C650.6 649.1 654.2 632.3 655.3 628.0 M670 628 C670.6 629.2 672.4 632.4 673.7 635.0 C674.9 637.6 676.1 641.0 677.3 643.7 C678.6 646.3 679.8 648.0 681.0 651.0 C682.2 654.0 683.5 657.4 684.8 661.4 C686.0 665.4 687.9 672.7 688.5 675.0" stroke="#e6c940" stroke-width="1.05" fill="none"/>
</g>
<text x="1558" y="56" class="ax">7.00000</text>
<text x="1558" y="90" class="ax">6.00000</text>
<text x="1558" y="132" class="ax">5.00000</text>
<text x="1558" y="160" class="ax">4.40000</text>
<text x="1558" y="193" class="ax">3.80000</text>
<text x="1558" y="232" class="ax">3.20000</text>
<text x="1558" y="262" class="ax">2.80000</text>
<text x="1558" y="297" class="ax">2.40000</text>
<text x="1558" y="327" class="ax">2.10000</text>
<text x="1558" y="361" class="ax">1.80000</text>
<text x="1558" y="388" class="ax">1.60000</text>
<text x="1558" y="418" class="ax">1.40000</text>
<text x="1558" y="453" class="ax">1.20000</text>
<text x="1558" y="483" class="ax">1.05000</text>
<text x="1558" y="517" class="ax">0.90000</text>
<text x="1558" y="544" class="ax">0.80000</text>
<text x="1558" y="574" class="ax">0.70000</text>
<text x="1558" y="601" class="ax">0.62000</text>
<text x="1558" y="629" class="ax">0.55000</text>
<text x="1558" y="634" class="ax">50.00</text>
<text x="1558" y="663" class="ax">40.00</text>
<text x="1558" y="691" class="ax">30.00</text>
<text x="1558" y="719" class="ax">20.00</text>
<text x="48" y="759" class="tx" text-anchor="middle">Sep</text>
<text x="123" y="759" class="tx" text-anchor="middle">Nov</text>
<text x="198" y="759" class="tx" text-anchor="middle">2025</text>
<text x="270" y="759" class="tx" text-anchor="middle">Mar</text>
<text x="345" y="759" class="tx" text-anchor="middle">May</text>
<text x="420" y="759" class="tx" text-anchor="middle">Jul</text>
<text x="496" y="759" class="tx" text-anchor="middle">Sep</text>
<text x="571" y="759" class="tx" text-anchor="middle">Nov</text>
<text x="646" y="759" class="tx" text-anchor="middle">2026</text>
<text x="718" y="759" class="tx" text-anchor="middle">Mar</text>
<text x="793" y="759" class="tx" text-anchor="middle">May</text>
<text x="868" y="759" class="tx" text-anchor="middle">Jul</text>
<text x="944" y="759" class="tx" text-anchor="middle">Sep</text>
<text x="1019" y="759" class="tx" text-anchor="middle">Nov</text>
<text x="1094" y="759" class="tx" text-anchor="middle">2027</text>
<text x="1166" y="759" class="tx" text-anchor="middle">Mar</text>
<text x="1241" y="759" class="tx" text-anchor="middle">May</text>
<rect x="1551.5" y="413.5" width="49" height="14" rx="1" fill="#f23645"/>
<text x="1559" y="425" class="axw" textLength="35.7" lengthAdjust="spacingAndGlyphs">1.36071</text>
</svg>
<svg class="abs" id="xrpico" viewBox="0 0 12 12"><path d="M1.3 1.2 L3.9 3.9 Q5.9 5.8 7.9 3.9 L10.5 1.2 M1.3 10.6 L3.9 7.9 Q5.9 6 7.9 7.9 L10.5 10.6" stroke="#c9ccd4" stroke-width="1.25" fill="none" stroke-linecap="round"/></svg>
<div class="abs" id="title">XRP / U.S. Dollar · 1D · Kraken</div>
<svg class="abs" style="left:228px;top:17px" width="14" height="14"><circle cx="7" cy="7" r="6.5" fill="#0f3d33"/><circle cx="7" cy="7" r="3.3" fill="#22ab94"/></svg>
<div class="abs ohlc" style="left:250px">O<span class="r">1.50870</span></div><div class="abs ohlc" style="left:304px">H<span class="r">1.51160</span></div><div class="abs ohlc" style="left:359px">L<span class="r">1.34000</span></div><div class="abs ohlc" style="left:411px">C<span class="r">1.36071</span></div><div class="abs ohlc" style="left:464px"><span class="r">−0.14799</span></div><div class="abs ohlc" style="left:514.5px;letter-spacing:-0.4px"><span class="r">(−9.81%)</span></div><div class="abs ohlc" style="left:563px">Vol<span class="r">30.41<span style="margin-left:1.5px">M</span></span></div>
<div class="btn" id="sell">1.36044<br><span class="s2">SELL</span></div>
<div class="abs" id="spread">0.00003</div>
<div class="btn" id="buy">1.36047<br><span class="s2">BUY</span></div>
<div class="abs" id="srmtf">SRMTF</div>
<div class="abs" id="upbtn"><svg width="26" height="17" viewBox="0 0 26 17"><path d="M9.5 10 L12.5 7 L15.5 10" stroke="#d1d4dc" stroke-width="1.4" fill="none"/></svg></div>
<div class="abs" id="usd">USD<svg style="position:absolute;left:38px;top:9.5px" width="6" height="4" viewBox="0 0 6 4"><path d="M1 1 L3 3 L5 1" stroke="#d1d4dc" stroke-width="1.1" fill="none"/></svg></div>
<div class="abs" style="left:12.5px;top:637px;font-size:10.5px;color:#b8bbc4">RSI</div><div class="abs" style="left:34.5px;top:637px;font-size:10.8px;color:#5e4e96">20.26</div><div class="abs" style="left:68.5px;top:636.5px;font-size:10.8px;font-weight:bold;color:#e3c43e">33.93</div>
<svg class="abs" style="left:14.5px;top:717px" width="27" height="14.5" viewBox="0 0 27 14.5"><path d="M0 0 H11 V14.5 H6 V4.8 H0 Z" fill="#e6e6e8"/><circle cx="14.6" cy="2.6" r="2.6" fill="#e6e6e8"/><path d="M18.6 0 H26.6 L19.8 14.5 H12.4 Z" fill="#e6e6e8"/></svg><div class="abs" id="tvlogo">TradingView</div>
<svg class="abs" style="left:1571px;top:749.5px" width="15" height="14" viewBox="0 0 15 14"><path d="M4.3 1.2 H10.7 L13.9 7 L10.7 12.8 H4.3 L1.1 7 Z" stroke="#b2b5be" stroke-width="1.1" fill="none"/><circle cx="7.5" cy="7" r="1.9" stroke="#b2b5be" stroke-width="1.1" fill="none"/></svg>
<svg class="abs" style="left:676px;top:584px" width="32" height="46" viewBox="0 0 32 46">
<circle cx="13.5" cy="10.2" r="7.6" stroke="#9747d0" stroke-width="1.3" fill="#15131f"/>
<path d="M15.2 5.2 L10.8 11.2 H13.8 L12 15.6 L17.2 9.4 H14.2 Z" fill="#a24fe2"/>
<circle cx="19.3" cy="4" r="2.4" fill="#f0404a"/>
<path d="M3.4 13.4 L6.2 9.6 L9.2 13.4 L6.2 17.4 Z" fill="#7357f0"/>
<ellipse cx="16" cy="32.4" rx="12" ry="9.6" fill="#5a1418" stroke="#d42a2a" stroke-width="1.8"/>
<clipPath id="fc2"><circle cx="20.5" cy="32.2" r="6.4"/></clipPath>
<g clip-path="url(#fc2)"><rect x="13" y="25" width="15" height="15" fill="#f2f2f4"/><path d="M13 27.5 H28 M13 31 H28 M13 34.5 H28 M13 38 H28" stroke="#e0454a" stroke-width="1.4"/></g>
<clipPath id="fc1"><circle cx="12.8" cy="32.4" r="6.8"/></clipPath>
<circle cx="12.8" cy="32.4" r="7.4" fill="#5a1418"/>
<g clip-path="url(#fc1)"><rect x="5" y="25" width="16" height="16" fill="#f4f4f6"/><path d="M5 29.5 H21 M5 33 H21 M5 36.5 H21" stroke="#e0454a" stroke-width="1.5"/><rect x="5" y="25" width="7.5" height="6.5" fill="#3b7be6"/></g>
</svg>
</body></html>
